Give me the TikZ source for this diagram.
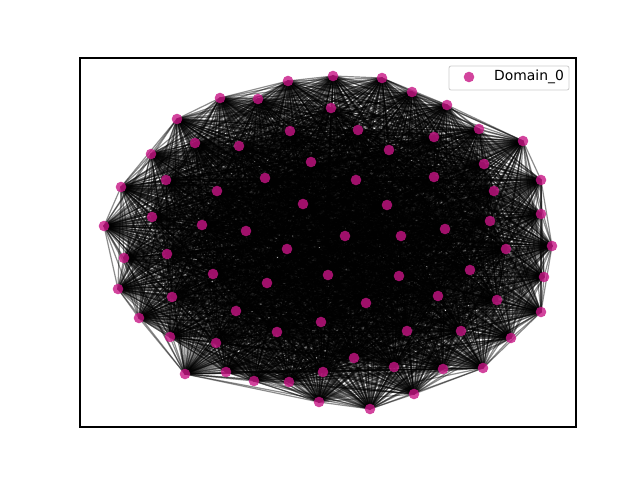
\documentclass[tikz,border=0pt]{standalone}
\usepackage{fontspec}
\setmainfont{DejaVu Sans}
\usepackage{tikz}
\pgfdeclarelayer{background}
\pgfsetlayers{background,main}
\definecolor{violetred}{RGB}{199,21,133}

\begin{document}
\begin{tikzpicture}[x=1pt, y=-1pt,
  vtx/.style={circle, fill=violetred, fill opacity=0.8, inner sep=0pt, minimum size=10.6pt},
  edge/.style={draw=black, draw opacity=0.45, line width=1.2pt}]
\useasboundingbox (0,0) rectangle (640,480);

% Nodes
\foreach \x/\y [count=\n] in {333/76, 382/78, 288/81, 412/92, 447/105, 220/98, 258/99,
  479/129, 523/141, 177/119, 151/154, 541/180, 121/187, 541/214, 104/226, 552/246,
  124/258, 544/277, 118/289, 541/312, 139/318, 511/338, 185/374, 483/368, 226/372,
  254/381, 289/382, 319/402, 370/409, 414/394, 443/369, 323/372, 354/358, 394/367,
  407/331, 461/331, 497/300, 506/249, 470/270, 490/221, 494/191, 484/164, 434/177,
  434/137, 389/150, 358/130, 331/108, 290/131, 239/146, 195/143, 166/180, 152/217,
  167/254, 172/297, 170/337, 216/343, 236/311, 213/274, 202/225, 217/191, 265/178,
  311/162, 356/180, 303/204, 387/205, 445/229, 401/236, 345/236, 287/249, 246/231,
  267/283, 328/275, 399/276, 438/296, 366/303, 321/322, 277/332}
  \node[vtx] (v\n) at (\x,\y) {};

% Edges (every pair)
\begin{pgfonlayer}{background}
\foreach \i in {1,...,77}
  \foreach \j in {\i,...,77} {
    \ifnum\j>\i
      \draw[edge] (v\i.center) -- (v\j.center);
    \fi
  }
\end{pgfonlayer}

% Axes
\draw[line width=1.1pt] (80,58) rectangle (576,427);

% Legend
\node[draw=black!20, fill=white, fill opacity=0.8, text opacity=1, rounded corners=2pt,
  line width=0.8pt, minimum width=120pt, minimum height=24pt, inner sep=0pt] (legend) at (509,78) {};
\node[vtx] (legmark) at (469,77) {};
\node[anchor=west, inner sep=0pt, font=\fontsize{13.9}{16}\selectfont] (legtext) at (494,77) {Domain\_0};
\end{tikzpicture}
\end{document}
